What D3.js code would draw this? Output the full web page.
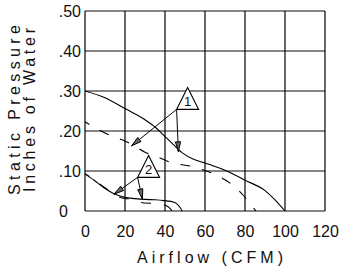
<!DOCTYPE html>
<html>
<head>
<meta charset="utf-8">
<script src="https://cdn.jsdelivr.net/npm/d3@7"></script>
<style>
  body { margin: 0; background: #fff; }
  text { font-family: "Liberation Sans Narrow", "Liberation Sans", sans-serif; fill: #111; }
</style>
</head>
<body>
<div id="chart"></div>
<script>
const xTicks = [0, 20, 40, 60, 80, 100, 120]
const yTicks = [0, 0.1, 0.2, 0.3, 0.4, 0.5]
const yTickLabels = ['0', '.10', '.20', '.30', '.40', '.50']

// fan 1 (high speed) - solid and dashed
const fan1Solid = [[0, 0.30], [10, 0.283], [20, 0.256], [30, 0.228], [35, 0.21], [40, 0.186], [44, 0.167],
    [49, 0.144], [54, 0.13], [60, 0.12], [70, 0.102], [80, 0.077], [90, 0.051], [95, 0.028], [100, 0]]
const fan1Dashed = [[0, 0.223], [8, 0.20], [13, 0.188], [20, 0.175], [24, 0.165], [30, 0.147], [36, 0.136],
    [42, 0.123], [47, 0.117], [54, 0.111], [60, 0.101], [65, 0.092], [70, 0.078], [75, 0.06], [79, 0.04],
    [83, 0.015], [85.5, 0]]

// fan 2 (low speed)
const fan2Solid = [[0, 0.093], [4.5, 0.077], [9.5, 0.058], [14.5, 0.043], [20, 0.034], [25, 0.031], [30, 0.029],
    [35, 0.028], [39.5, 0.026], [44.5, 0.022], [47.8, 0.007], [48.6, 0]]
const fan2Dashed = [[0, 0.093], [5, 0.077], [10, 0.058], [14.5, 0.043], [18, 0.033], [23, 0.029], [29.5, 0.02],
    [35, 0.019], [39, 0.016], [42, 0.009], [43.6, 0]]

const callouts = [
    { label: '1', at: [45.8, 0.254], targets: [[23.3, 0.163], [46.7, 0.148]] },
    { label: '2', at: [26.3, 0.084], targets: [[14.5, 0.042], [28.7, 0.03]] }
]

const width = 344
const height = 269
const margin = { top: 11, right: 19, bottom: 58, left: 85 }

const svg = d3.select('#chart')
    .append('svg')
    .attr('width', width)
    .attr('height', height)

const x = d3.scaleLinear().domain([0, 120]).range([margin.left, width - margin.right])
const y = d3.scaleLinear().domain([0, 0.5]).range([height - margin.bottom, margin.top])

// grid: gray horizontals, black verticals
svg.append('g')
    .selectAll('line')
    .data(yTicks)
    .enter()
    .append('line')
    .attr('x1', x(0))
    .attr('x2', x(120))
    .attr('y1', (d) => y(d))
    .attr('y2', (d) => y(d))
    .attr('stroke', '#858585')
    .attr('stroke-width', 2)

svg.append('g')
    .selectAll('line')
    .data(xTicks)
    .enter()
    .append('line')
    .attr('x1', (d) => x(d))
    .attr('x2', (d) => x(d))
    .attr('y1', y(0.5))
    .attr('y2', y(0))
    .attr('stroke', '#000')
    .attr('stroke-width', 1.2)

// axes (labels only)
const xAxis = svg.append('g')
    .attr('transform', `translate(0, ${y(0)})`)
    .call(d3.axisBottom(x).tickValues(xTicks).tickSize(0).tickFormat(d3.format('d')))
xAxis.select('.domain').remove()
xAxis.selectAll('text')
    .attr('y', 26)
    .attr('dy', 0)
    .attr('font-size', 16)

const yAxis = svg.append('g')
    .attr('transform', `translate(${x(0)}, 0)`)
    .call(d3.axisLeft(y).tickValues(yTicks).tickSize(0).tickPadding(4)
        .tickFormat((d, i) => yTickLabels[i]))
yAxis.select('.domain').remove()
yAxis.selectAll('text')
    .attr('font-size', 16)
    .attr('dy', '0.36em')
    .attr('x', (d) => d === 0 ? -17 : -4)

svg.append('text')
    .attr('x', 210)
    .attr('y', 263)
    .attr('text-anchor', 'middle')
    .attr('font-size', 16)
    .attr('textLength', 146)
    .attr('lengthAdjust', 'spacing')
    .text('Airflow (CFM)')

const yTitle = svg.append('g')
    .attr('transform', 'translate(0, 110) rotate(-90)')
yTitle.append('text')
    .attr('x', 0)
    .attr('y', 20)
    .attr('text-anchor', 'middle')
    .attr('font-size', 16)
    .attr('textLength', 170)
    .attr('lengthAdjust', 'spacing')
    .text('Static Pressure')
yTitle.append('text')
    .attr('x', 0)
    .attr('y', 34.5)
    .attr('text-anchor', 'middle')
    .attr('font-size', 16)
    .attr('textLength', 164)
    .attr('lengthAdjust', 'spacing')
    .text('Inches of Water')

// curves
const line = d3.line()
    .x((d) => x(d[0]))
    .y((d) => y(d[1]))
    .curve(d3.curveMonotoneX)

const curves = [
    { pts: fan1Solid, dash: null },
    { pts: fan1Dashed, dash: '10 12' },
    { pts: fan2Solid, dash: null },
    { pts: fan2Dashed, dash: '10 13' }
]

svg.append('g')
    .selectAll('path')
    .data(curves)
    .enter()
    .append('path')
    .attr('d', (d) => line(d.pts))
    .attr('fill', 'none')
    .attr('stroke', '#000')
    .attr('stroke-width', 1.1)
    .attr('stroke-dasharray', (d) => d.dash)
    .attr('stroke-dashoffset', (d) => d.dash ? 5 : null)

// callouts: triangle with number and arrows
const tri = 22
const callout = svg.append('g')
    .selectAll('g')
    .data(callouts)
    .enter()
    .append('g')

callout.append('path')
    .attr('d', (d) => {
        const bx = x(d.at[0])
        const by = y(d.at[1])
        return `M${bx},${by}L${bx + tri},${by}L${bx + tri / 2},${by - tri}Z`
    })
    .attr('fill', '#fff')
    .attr('stroke', '#000')
    .attr('stroke-width', 1.1)

callout.append('text')
    .attr('x', (d) => x(d.at[0]) + tri / 2)
    .attr('y', (d) => y(d.at[1]) - 3)
    .attr('text-anchor', 'middle')
    .attr('font-size', 13)
    .text((d) => d.label)

const arrows = callouts.flatMap((c) => c.targets.map((t) => ({ from: c.at, to: t })))

const arrow = svg.append('g')
    .selectAll('g')
    .data(arrows)
    .enter()
    .append('g')

arrow.append('line')
    .attr('x1', (d) => x(d.from[0]))
    .attr('y1', (d) => y(d.from[1]))
    .attr('x2', (d) => x(d.to[0]))
    .attr('y2', (d) => y(d.to[1]))
    .attr('stroke', '#000')
    .attr('stroke-width', 1)

arrow.append('path')
    .attr('d', (d) => {
        const x0 = x(d.from[0])
        const y0 = y(d.from[1])
        const x1 = x(d.to[0])
        const y1 = y(d.to[1])
        const a = Math.atan2(y1 - y0, x1 - x0)
        const len = 10
        const w = 2.6
        const bx = x1 - len * Math.cos(a)
        const by = y1 - len * Math.sin(a)
        const px = -Math.sin(a) * w
        const py = Math.cos(a) * w
        return `M${x1},${y1}L${bx + px},${by + py}L${bx - px},${by - py}Z`
    })
    .attr('fill', '#666')
    .attr('stroke', '#000')
    .attr('stroke-width', 1)
</script>
</body>
</html>
